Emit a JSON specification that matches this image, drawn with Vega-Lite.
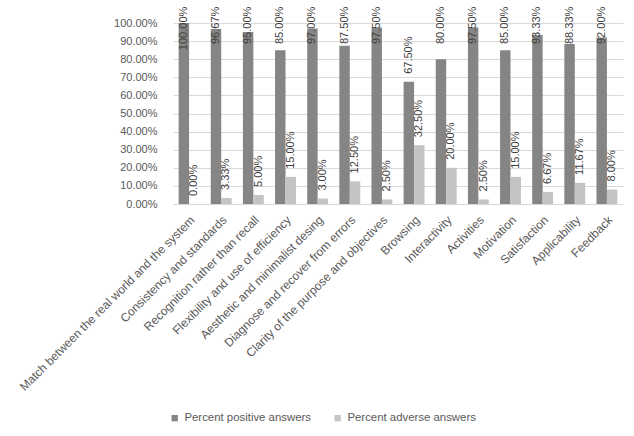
{
  "$schema": "https://vega.github.io/schema/vega-lite/v6.json",
  "width": 450,
  "height": 181,
  "autosize": {"type": "none"},
  "padding": {"left": 173, "top": 23, "right": 11, "bottom": 232},
  "background": "white",
  "config": {
    "font": "Liberation Sans",
    "view": {"stroke": null},
    "axis": {"labelFont": "Liberation Sans", "labelFontSize": 11, "labelColor": "#595959", "labelOverlap": false}
  },
  "data": {
    "values": [
      {"criterion": "Match between the real world and the system", "series": "Percent positive answers", "share": 1.0},
      {"criterion": "Match between the real world and the system", "series": "Percent adverse answers", "share": 0.0},
      {"criterion": "Consistency and standards", "series": "Percent positive answers", "share": 0.9667},
      {"criterion": "Consistency and standards", "series": "Percent adverse answers", "share": 0.0333},
      {"criterion": "Recognition rather than recall", "series": "Percent positive answers", "share": 0.95},
      {"criterion": "Recognition rather than recall", "series": "Percent adverse answers", "share": 0.05},
      {"criterion": "Flexibility and use of efficiency", "series": "Percent positive answers", "share": 0.85},
      {"criterion": "Flexibility and use of efficiency", "series": "Percent adverse answers", "share": 0.15},
      {"criterion": "Aesthetic and minimalist desing", "series": "Percent positive answers", "share": 0.97},
      {"criterion": "Aesthetic and minimalist desing", "series": "Percent adverse answers", "share": 0.03},
      {"criterion": "Diagnose and recover from errors", "series": "Percent positive answers", "share": 0.875},
      {"criterion": "Diagnose and recover from errors", "series": "Percent adverse answers", "share": 0.125},
      {"criterion": "Clarity of the purpose and objectives", "series": "Percent positive answers", "share": 0.975},
      {"criterion": "Clarity of the purpose and objectives", "series": "Percent adverse answers", "share": 0.025},
      {"criterion": "Browsing", "series": "Percent positive answers", "share": 0.675},
      {"criterion": "Browsing", "series": "Percent adverse answers", "share": 0.325},
      {"criterion": "Interactivity", "series": "Percent positive answers", "share": 0.8},
      {"criterion": "Interactivity", "series": "Percent adverse answers", "share": 0.2},
      {"criterion": "Activities", "series": "Percent positive answers", "share": 0.975},
      {"criterion": "Activities", "series": "Percent adverse answers", "share": 0.025},
      {"criterion": "Motivation", "series": "Percent positive answers", "share": 0.85},
      {"criterion": "Motivation", "series": "Percent adverse answers", "share": 0.15},
      {"criterion": "Satisfaction", "series": "Percent positive answers", "share": 0.9333},
      {"criterion": "Satisfaction", "series": "Percent adverse answers", "share": 0.0667},
      {"criterion": "Applicability", "series": "Percent positive answers", "share": 0.8833},
      {"criterion": "Applicability", "series": "Percent adverse answers", "share": 0.1167},
      {"criterion": "Feedback", "series": "Percent positive answers", "share": 0.92},
      {"criterion": "Feedback", "series": "Percent adverse answers", "share": 0.08}
    ]
  },
  "encoding": {
    "x": {
      "field": "criterion",
      "type": "nominal",
      "sort": null,
      "scale": {"paddingInner": 0.35, "paddingOuter": 0.175},
      "axis": {
        "title": null,
        "labelAngle": -45,
        "labelLimit": 400,
        "labelPadding": 10,
        "labelFontSize": 12,
        "ticks": false,
        "domainColor": "#d9d9d9",
        "grid": false
      }
    },
    "xOffset": {
      "field": "series",
      "type": "nominal",
      "scale": {"domain": ["Percent positive answers", "Percent adverse answers"]}
    }
  },
  "resolve": {"axis": {"y": "independent", "x": "independent"}},
  "layer": [
    {
      "mark": {"type": "bar"},
      "encoding": {
        "y": {
          "field": "share",
          "type": "quantitative",
          "scale": {"domain": [0, 1], "nice": false},
          "axis": {
            "title": null,
            "format": ".2%",
            "values": [0, 0.1, 0.2, 0.3, 0.4, 0.5, 0.6, 0.7, 0.8, 0.9, 1],
            "domain": false,
            "ticks": false,
            "labelPadding": 16,
            "gridColor": "#d9d9d9"
          }
        },
        "color": {
          "field": "series",
          "type": "nominal",
          "scale": {
            "domain": ["Percent positive answers", "Percent adverse answers"],
            "range": ["#858585", "#c4c4c4"]
          },
          "legend": {
            "title": null,
            "orient": "none",
            "direction": "horizontal",
            "legendX": -4,
            "legendY": 389,
            "symbolType": "square",
            "symbolSize": 40,
            "symbolStrokeWidth": 0,
            "labelFontSize": 11.4,
            "labelColor": "#595959",
            "columnPadding": 20,
            "labelOffset": 4
          }
        }
      }
    },
    {
      "transform": [{"filter": "datum.series === 'Percent adverse answers' || datum.share < 0.75"}],
      "mark": {"type": "text", "angle": 270, "align": "left", "baseline": "middle", "dx": 8, "fontSize": 11, "color": "#404040"},
      "encoding": {
        "x": {"field": "criterion", "type": "nominal", "sort": null, "axis": null},
        "y": {"field": "share", "type": "quantitative", "axis": null},
        "text": {"field": "share", "type": "quantitative", "format": ".2%"}
      }
    },
    {
      "transform": [{"filter": "datum.series === 'Percent positive answers' && datum.share >= 0.75"}],
      "mark": {"type": "text", "angle": 270, "align": "right", "baseline": "middle", "fontSize": 11, "color": "#404040"},
      "encoding": {
        "x": {"field": "criterion", "type": "nominal", "sort": null, "axis": null},
        "y": {"datum": 1.09, "axis": null},
        "text": {"field": "share", "type": "quantitative", "format": ".2%"}
      }
    }
  ]
}
